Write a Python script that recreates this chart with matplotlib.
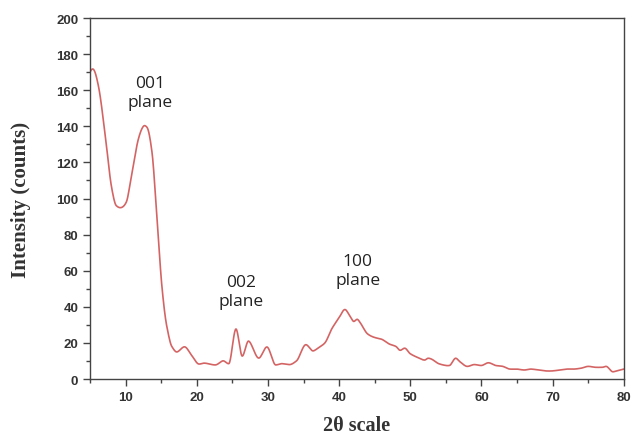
import matplotlib
matplotlib.use("Agg")
import matplotlib.pyplot as plt
import numpy as np
from matplotlib.ticker import MultipleLocator

two_theta = [5, 5.5, 6.2, 7.2, 8.0, 8.7, 9.4, 10.1, 10.8, 11.8, 12.5, 13.0, 13.7, 14.4, 15.1, 15.8,
             16.5, 17.2, 18.4, 19.3, 20.3, 21.1, 22.6, 23.6, 24.5, 25.5, 26.4, 27.3, 28.7, 29.9,
             31.1, 32, 33, 34, 35.3, 36.4, 37, 38, 39, 40, 40.8, 41.5, 42, 42.6, 43, 44, 45, 46,
             47, 48, 48.5, 49.3, 50, 51, 52, 52.5, 53, 54, 55, 55.5, 56.4, 57, 58, 59, 60, 61, 62,
             63, 64, 65, 66, 67, 68, 69, 70, 71, 72, 73, 74, 75, 76, 77, 77.5, 78.5, 79, 80]
intensity = [170, 171.5, 162, 133, 107, 96, 95, 98, 112, 133, 140, 139.5, 126, 90, 51.5, 29,
             18, 15, 17.7, 13, 8.3, 8.8, 7.8, 10, 8.5, 27.7, 12.7, 21, 11.6, 17.7,
             7.8, 8.5, 8, 10, 19, 15.6, 17, 20, 28, 34, 38.5, 35, 32, 33, 31, 25, 23, 22,
             19.5, 18, 16, 17, 14, 12, 10.5, 11.5, 11, 8.5, 7.5, 7.5, 11.5, 9.5, 7, 8, 7.5, 9, 7.5,
             7, 5.5, 5.5, 5, 5.5, 5, 4.5, 4.5, 5, 5.5, 5.5, 6, 7, 6.5, 6.5, 7, 4, 4.5, 5.5]

labels = ["001\nplane", "002\nplane", "100\nplane"]
label_x = [13.5, 26.2, 42.6]
label_y = [159, 48.5, 60]

fig = plt.figure(figsize=(6.32, 4.35), dpi=100)
ax = fig.add_axes([0.1424, 0.1264, 0.8446, 0.8299])

xs = np.array(two_theta, dtype=float)
ys = np.array(intensity, dtype=float)
try:
    from scipy.interpolate import Akima1DInterpolator
    xd = np.linspace(xs[0], xs[-1], 1500)
    yd = Akima1DInterpolator(xs, ys, method="makima")(xd)
except Exception:
    try:
        from scipy.interpolate import PchipInterpolator
        xd = np.linspace(xs[0], xs[-1], 1500)
        yd = PchipInterpolator(xs, ys)(xd)
    except Exception:
        xd, yd = xs, ys
ax.plot(xd, yd, color="#d46464", lw=1.2)

for t, x, y in zip(labels, label_x, label_y):
    ax.text(x, y, t, ha="center", va="center", fontsize=12.5, family="Open Sans",
            color="#222222", linespacing=1.25)

ax.set_xlim(5, 80)
ax.set_ylim(0, 200)
ax.xaxis.set_major_locator(MultipleLocator(10))
ax.xaxis.set_minor_locator(MultipleLocator(5))
ax.yaxis.set_major_locator(MultipleLocator(20))
ax.yaxis.set_minor_locator(MultipleLocator(10))
ax.set_xticks([10, 20, 30, 40, 50, 60, 70, 80])
ax.tick_params(which="major", direction="out", length=5, width=1, color="#444444")
ax.tick_params(which="minor", direction="out", length=3, width=1, color="#444444")
for lab in ax.get_xticklabels() + ax.get_yticklabels():
    lab.set_fontweight("bold")
    lab.set_fontsize(9.5)
    lab.set_family("Liberation Sans")
    lab.set_color("#333333")
for s in ax.spines.values():
    s.set_color("#444444")
    s.set_linewidth(1)

ax.set_xlabel("2θ scale", fontsize=14.5, fontweight="bold", family="Liberation Serif",
              color="#333333", labelpad=9)
ax.set_ylabel("Intensity (counts)", fontsize=15, fontweight="bold", family="Liberation Serif",
              color="#333333", labelpad=18)

fig.savefig("out.png", dpi=100)
